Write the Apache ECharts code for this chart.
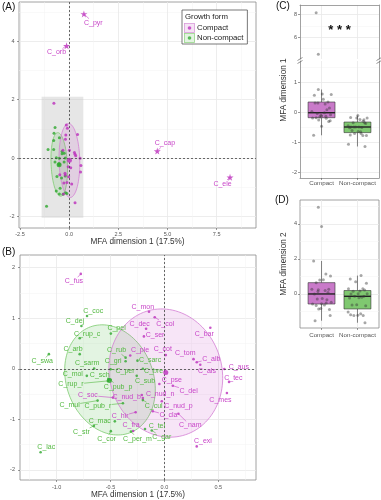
<!DOCTYPE html>
<html><head><meta charset="utf-8">
<script src="https://cdn.jsdelivr.net/npm/echarts@6/dist/echarts.min.js"></script>
<style>html,body{margin:0;padding:0;background:#fff}#c{width:381px;height:500px}</style>
</head><body><div id="c"></div>
<script>
// ---------------- data ----------------
const compactNames = ['C_fus','C_mon','C_dec','C_col','C_ser','C_bar','C_ple','C_cot','C_tom','C_alb','C_als','C_aus','C_tec','C_mes','C_pse','C_del','C_nud_n','C_nud_p','C_cla','C_nam','C_exi','C_soc','C_nud_b','C_hir','C_fra'];
const compactDim1 = [-0.776,-0.143,-0.17,-0.09,-0.19,0.426,-0.317,0.013,0.27,0.30,0.333,0.556,0.60,0.58,-0.047,0.078,-0.20,-0.024,-0.108,0.13,0.30,-0.478,-0.21,-0.267,-0.29];
const compactDim2 = [1.876,1.128,0.79,1.02,0.64,0.81,0.262,0.27,0.19,0.13,0.08,-0.006,-0.26,-0.48,-0.30,-0.335,-0.58,-0.643,-0.84,-0.89,-1.535,-0.57,-0.52,-0.86,-1.23];

const nonNames = ['C_coc','C_dej','C_rup_c','C_pel','C_arb','C_swa','C_sarm','C_rub','C_gri','C_sarc','C_per','C_bre','C_mol','C_sch','C_rup_r','C_pub_p','C_sub','C_mul','C_pub_r','C_cul','C_mac','C_str','C_cor','C_per_m','C_tel','C_gar','C_lac'];
const nonDim1 = [-0.718,-0.77,-0.786,-0.497,-0.786,-1.072,-0.652,-0.36,-0.36,-0.25,-0.50,-0.20,-0.72,-0.52,-0.525,-0.50,-0.257,-0.62,-0.385,-0.20,-0.46,-0.655,-0.497,-0.31,-0.18,-0.117,-1.149];
const nonDim2 = [1.043,0.846,0.604,0.695,0.289,0.289,0.006,0.22,0.15,0.16,-0.01,0.0,-0.14,-0.20,-0.24,-0.22,-0.14,-0.63,-0.683,-0.62,-1.04,-1.13,-1.234,-1.24,-1.19,-1.22,-1.65];

// compact species outside the zoomed window (panel A stars)
const outlierNames = ['C_pyr','C_orb','C_cap','C_ele'];
const outlierDim1 = [0.75,-0.13,4.48,8.18];
const outlierDim2 = [4.94,3.85,0.24,-0.66];

// group mean points
const meanCompact = [0.013,-0.075];
const meanNon = [-0.51,-0.23];

// confidence ellipses: centre and two semi-axis vectors (data units)
const ellipseCompactCenter = [0.013,-0.085];
const ellipseCompactAxes = [[-0.157,1.236],[0.504,0.285]];
const ellipseNonCenter = [-0.505,-0.22];
const ellipseNonAxes = [[-0.18,1.05],[0.38,0.29]];

// zoom window drawn in panel A
const zoomBoxX = [-1.4,0.72];
const zoomBoxY = [-2.05,2.1];

// tick labels
const ticksAx = [-2.5,0,2.5,5,7.5];
const ticksAy = [-2,0,2,4];
const ticksBx = [-1,-0.5,0,0.5];
const ticksBy = [-2,-1,0,1,2];
const ticksCupper = [6,8];
const ticksClower = [-2,-1,0,1];
const ticksD = [0,2,4];
const groupLabels = ['Compact','Non-compact'];

// ---------------- layout (label anchors, jitter) ----------------
const compactLabelAt = [[-0.84,1.73],[-0.20,1.23],[-0.23,0.89],[0.007,0.886],[-0.087,0.67],[0.37,0.68],[-0.226,0.37],[-0.015,0.39],[0.193,0.315],[0.435,0.197],[0.395,-0.05],[0.69,0.026],[0.64,-0.19],[0.52,-0.61],[0.069,-0.22],[0.224,-0.433],[-0.04,-0.51],[0.13,-0.73],[0.037,-0.925],[0.24,-1.12],[0.358,-1.43],[-0.71,-0.525],[-0.35,-0.55],[-0.41,-0.94],[-0.31,-1.12]];
const nonLabelAt = [[-0.66,1.14],[-0.83,0.945],[-0.717,0.695],[-0.444,0.80],[-0.848,0.388],[-1.133,0.144],[-0.717,0.104],[-0.444,0.367],[-0.475,0.157],[-0.133,0.17],[-0.366,-0.04],[-0.10,-0.04],[-0.85,-0.11],[-0.60,-0.13],[-0.867,-0.31],[-0.43,-0.354],[-0.18,-0.25],[-0.88,-0.72],[-0.618,-0.735],[-0.10,-0.74],[-0.60,-1.04],[-0.77,-1.25],[-0.537,-1.384],[-0.25,-1.384],[-0.07,-1.135],[-0.024,-1.35],[-1.096,-1.55]];
const outlierLabelAt = [[1.23,4.64],[-0.64,3.62],[4.87,0.5],[7.8,-0.89]];
const jitterCompact = [-0.22,0.12,-0.05,0.25,-0.15,0.05,0.2,-0.27,0.1,-0.1,0.18,-0.2,0.02,0.27,-0.12,0.15,-0.25,0.08,-0.02,0.22,-0.18,0.0,0.13,-0.08,0.24,-0.09,0.0,-0.09,-0.15];
const jitterNon = [0.1,-0.2,0.25,-0.05,0.15,-0.25,0.02,0.2,-0.12,0.07,-0.18,0.27,-0.08,0.12,-0.22,0.04,0.18,-0.15,0.23,-0.02,-0.26,0.09,-0.1,0.16,-0.19,0.01,0.21];

// ---------------- styles ----------------
const FONT = '"Liberation Sans", Arial, Helvetica, sans-serif';
const PINK = '#BC2EBC', PINK_TXT = '#C845C8';
const GREEN = '#2EA82E', GREEN_TXT = '#52B840';
const BORDER = '#8a8a8a';

const chart = echarts.init(document.getElementById('c'), null, {renderer:'canvas'});
const mctx = document.createElement('canvas').getContext('2d');
function textW(t, fs){ mctx.font = fs + 'px ' + FONT; return mctx.measureText(t).width; }

const near = (arr, v) => arr.some(t => Math.abs(t - v) < 1e-6);
function valAxis(gridIndex, min, max, interval, ticks, fmt, extra) {
  return Object.assign({
    type:'value', gridIndex, min, max, minInterval: interval, maxInterval: interval,
    axisLine:{show:false, onZero:false},
    axisTick:{show:true, length:2, lineStyle:{color:'#555', width:0.6}, customValues: ticks},
    axisLabel:{fontSize:5.5, color:'#555', margin:3, fontFamily: FONT, customValues: ticks,
      formatter: v => near(ticks, v) ? fmt(v) : ''},
    splitLine:{show:true, lineStyle:{color:'#E9E9E9', width:0.8}},
    minorTick:{show:false, splitNumber:2},
    minorSplitLine:{show:true, lineStyle:{color:'#F3F3F3', width:0.5}}
  }, extra || {});
}
const f1 = v => v.toFixed(1), f0 = v => String(Math.round(v));
const borderOnly = (gridIndex, min, max, position) => ({
  type:'value', gridIndex, min, max, position,
  axisLine:{show:true, onZero:false, lineStyle:{color:BORDER, width:0.8}},
  axisTick:{show:false}, axisLabel:{show:false}, splitLine:{show:false}
});

const allCompactDim1 = compactDim1.concat(outlierDim1);
const allCompactDim2 = compactDim2.concat(outlierDim2);

function quantile(s, p){ const h=(s.length-1)*p, lo=Math.floor(h); return s[lo] + (h-lo)*(s[Math.min(lo+1,s.length-1)]-s[lo]); }
function boxStats(vals){
  const s = vals.slice().sort((a,b)=>a-b);
  const q1=quantile(s,0.25), med=quantile(s,0.5), q3=quantile(s,0.75), iqr=q3-q1;
  const lo = s.find(v => v >= q1-1.5*iqr);
  const hi = s.slice().reverse().find(v => v <= q3+1.5*iqr);
  return [lo,q1,med,q3,hi];
}

function ellipseSeries(gi, center, axes, stroke, fill) {
  return {type:'custom', xAxisIndex:gi, yAxisIndex:gi, z:2, silent:true, clip:true,
    data:[[center[0], center[1]]],
    renderItem(params, api){
      const pts = [];
      for (let k = 0; k <= 120; k++) {
        const t = k/120*2*Math.PI, c = Math.cos(t), s = Math.sin(t);
        pts.push(api.coord([center[0]+axes[0][0]*c+axes[1][0]*s, center[1]+axes[0][1]*c+axes[1][1]*s]));
      }
      return {type:'polygon', shape:{points:pts}, style:{fill, stroke, lineWidth:0.8}};
    }};
}

function labelSeries(gi, xs, ys, names, at, color, fs) {
  return {type:'custom', xAxisIndex:gi, yAxisIndex:gi, z:6, silent:true,
    data: xs.map((x,i) => [x, ys[i], at[i][0], at[i][1], i]),
    renderItem(params, api){
      const i = api.value(4);
      const p = api.coord([api.value(0), api.value(1)]);
      const l = api.coord([api.value(2), api.value(3)]);
      const cs = params.coordSys;
      if (l[0] < cs.x || l[0] > cs.x+cs.width || l[1] < cs.y || l[1] > cs.y+cs.height) return null;
      const txt = names[i];
      const w = textW(txt, fs) + 1, h = fs + 1;
      const children = [{type:'text', x:l[0], y:l[1], style:{text:txt, fill:color, fontSize:fs, fontFamily:FONT, align:'center', verticalAlign:'middle'}}];
      const dx = p[0]-l[0], dy = p[1]-l[1];
      const tx = dx !== 0 ? (w/2)/Math.abs(dx) : Infinity;
      const ty = dy !== 0 ? (h/2)/Math.abs(dy) : Infinity;
      const t = Math.min(tx, ty);
      if (t < 1) {
        const sx = l[0]+dx*t, sy = l[1]+dy*t;
        if (Math.hypot(p[0]-sx, p[1]-sy) > 4) children.push({type:'line', shape:{x1:sx,y1:sy,x2:p[0],y2:p[1]}, style:{stroke:color, lineWidth:0.6}});
      }
      return {type:'group', children};
    }};
}

const boxFills = ['#C97AC9','#7FC870'];
function boxSeries(gi, stats) {
  return {type:'custom', xAxisIndex:gi, yAxisIndex:gi, z:3, silent:true,
    data: stats.map((s,i) => [i+1].concat(s)),
    renderItem(params, api){
      const x = api.value(0), lo=api.value(1), q1=api.value(2), med=api.value(3), q3=api.value(4), hi=api.value(5);
      const hw = 0.375;
      const a = api.coord([x-hw, q3]), b = api.coord([x+hw, q1]);
      const m1 = api.coord([x-hw, med]), m2 = api.coord([x+hw, med]);
      const t = api.coord([x, hi]), tq = api.coord([x, q3]), bq = api.coord([x, q1]), bo = api.coord([x, lo]);
      const ln = {stroke:'#333', lineWidth:0.6};
      return {type:'group', children:[
        {type:'line', shape:{x1:t[0],y1:t[1],x2:tq[0],y2:tq[1]}, style:ln},
        {type:'line', shape:{x1:bq[0],y1:bq[1],x2:bo[0],y2:bo[1]}, style:ln},
        {type:'rect', shape:{x:a[0], y:a[1], width:b[0]-a[0], height:b[1]-a[1]}, style:{fill:boxFills[Math.round(x)-1], stroke:'#333', lineWidth:0.6}},
        {type:'line', shape:{x1:m1[0],y1:m1[1],x2:m2[0],y2:m2[1]}, style:{stroke:'#222', lineWidth:1.4}}
      ]};
    }};
}

function jitterSeries(gi, a, b) {
  const data = a.map((v,i) => [1 + jitterCompact[i], v]).concat(b.map((v,i) => [2 + jitterNon[i], v]));
  return {type:'scatter', xAxisIndex:gi, yAxisIndex:gi, z:5, silent:true, clip:true, symbolSize:3,
    itemStyle:{color:'rgba(55,55,55,0.55)'}, data};
}

const zip = (xs, ys) => xs.map((x,i) => [x, ys[i]]);
const dashed = {symbol:['none','none'], silent:true, label:{show:false}, lineStyle:{type:[2,2], color:'#444', width:0.8}, data:[{xAxis:0},{yAxis:0}]};
const STAR = 'path://M50,0 L61,35 L98,35 L68,57 L79,91 L50,70 L21,91 L32,57 L2,35 L39,35 Z';

function keyIcon(fill, stroke, dot) {
  const svg = '<svg xmlns="http://www.w3.org/2000/svg" width="22" height="20" viewBox="0 0 22 20"><rect x="1" y="1" width="20" height="18" fill="'+fill+'" stroke="'+stroke+'" stroke-width="1.6"/><circle cx="11" cy="10" r="3.6" fill="'+dot+'"/></svg>';
  return 'image://data:image/svg+xml;charset=utf-8,' + encodeURIComponent(svg);
}

const statsC = [boxStats(allCompactDim1), boxStats(nonDim1)];
const statsD = [boxStats(allCompactDim2), boxStats(nonDim2)];

const gridBase = {containLabel:false, outerBoundsMode:'none'};
const gridBorder = Object.assign({show:true, borderColor:BORDER, borderWidth:0.8, backgroundColor:'transparent'}, gridBase);
const catAxis = (gi, showLabels, extra) => valAxis(gi, 0.4, 2.6, 1, [1,2], v => groupLabels[Math.round(v)-1],
  Object.assign({minorSplitLine:{show:false}, axisLabel:{show:showLabels, fontSize:6.2, color:'#555', margin:2.5, fontFamily:FONT, customValues:[1,2],
    formatter: v => near([1,2], v) ? groupLabels[Math.round(v)-1] : ''}, axisTick:{show:showLabels, length:2, lineStyle:{color:'#555', width:0.6}, customValues:[1,2]}}, extra||{}));

const option = {
  animation:false,
  backgroundColor:'#fff',
  textStyle:{fontFamily:FONT},
  grid:[
    Object.assign({left:19, top:2, width:237, height:226}, gridBorder),
    Object.assign({left:20, top:255, width:236, height:225}, gridBorder),
    Object.assign({left:300, top:5, width:79, height:54, show:false}, gridBase),
    Object.assign({left:300, top:61, width:79, height:117, show:false}, gridBase),
    Object.assign({left:300, top:200, width:79, height:128}, gridBorder)
  ],
  xAxis:[
    valAxis(0, -2.55, 9.5, 2.5, ticksAx, f1, {name:'MFA dimension 1 (17.5%)', nameLocation:'middle', nameGap:10, nameTextStyle:{fontSize:8.2, color:'#333', fontFamily:FONT, verticalAlign:'top'}}),
    valAxis(1, -1.34, 0.85, 0.5, ticksBx, f1, {name:'MFA dimension 1 (17.5%)', nameLocation:'middle', nameGap:11, nameTextStyle:{fontSize:8.2, color:'#333', fontFamily:FONT, verticalAlign:'top'}, axisLabel:{fontSize:5.5, color:'#555', margin:4, fontFamily:FONT, customValues:ticksBx, formatter: v => near(ticksBx, v) ? f1(v) : ''}}),
    catAxis(2, false),
    catAxis(3, true, {axisLine:{show:true, onZero:false, lineStyle:{color:BORDER, width:0.8}}}),
    catAxis(4, true, {axisLabel:{show:true, fontSize:6.2, color:'#555', margin:4, fontFamily:FONT, customValues:[1,2], formatter: v => near([1,2], v) ? groupLabels[Math.round(v)-1] : ''}}),
    borderOnly(2, 0.4, 2.6, 'top')
  ],
  yAxis:[
    valAxis(0, -2.4, 5.35, 2, ticksAy, f0, {name:'MFA dimension 2 (12.4%)', nameLocation:'middle', nameGap:9, nameTextStyle:{fontSize:8.2, color:'#333', fontFamily:FONT}, axisLabel:{fontSize:5.5, color:'#555', margin:4.5, fontFamily:FONT, customValues:ticksAy, formatter: v => near(ticksAy, v) ? f0(v) : ''}}),
    valAxis(1, -2.2, 2.25, 1, ticksBy, f0, {name:'MFA dimension 2 (12.4%)', nameLocation:'middle', nameGap:9.5, nameTextStyle:{fontSize:8.2, color:'#333', fontFamily:FONT}, axisLabel:{fontSize:5.5, color:'#555', margin:5, fontFamily:FONT, customValues:ticksBy, formatter: v => near(ticksBy, v) ? f0(v) : ''}}),
    valAxis(2, 4.05, 8.87, 2, ticksCupper, f0, {axisLine:{show:true, onZero:false, lineStyle:{color:BORDER, width:0.8}}}),
    valAxis(3, -2.2, 1.7, 1, ticksClower, f0, {axisLine:{show:true, onZero:false, lineStyle:{color:BORDER, width:0.8}}}),
    valAxis(4, -1.95, 5.36, 2, ticksD, f0),
    borderOnly(2, 4.05, 8.87, 'right'),
    borderOnly(3, -2.2, 1.7, 'right')
  ],
  legend:{
    orient:'vertical', left:182, top:10, padding:[13,4,1,2], itemWidth:11, itemHeight:10, itemGap:0,
    borderColor:'#555', borderWidth:0.8, backgroundColor:'#fff', selectedMode:false,
    textStyle:{fontSize:7.8, color:'#222', fontFamily:FONT, padding:[0,0,0,-3]},
    data:[
      {name:'Compact', icon:keyIcon('#F3DDF3','#D080D0',PINK)},
      {name:'Non-compact', icon:keyIcon('#DDF1DA','#7ACB6A',GREEN)}
    ]
  },
  graphic:[
    {type:'text', x:2, y:2, z:100, style:{text:'(A)', fontSize:10, fontFamily:FONT, fill:'#111'}},
    {type:'text', x:2, y:247, z:100, style:{text:'(B)', fontSize:10, fontFamily:FONT, fill:'#111'}},
    {type:'text', x:276, y:1, z:100, style:{text:'(C)', fontSize:10, fontFamily:FONT, fill:'#111'}},
    {type:'text', x:275, y:195, z:100, style:{text:'(D)', fontSize:10, fontFamily:FONT, fill:'#111'}},
    {type:'text', x:185, y:13, z:100, style:{text:'Growth form', fontSize:7.8, fontFamily:FONT, fill:'#222'}},
    {type:'text', x:284, y:90, rotation:Math.PI/2, z:100, style:{text:'MFA dimension 1', fontSize:8.2, fontFamily:FONT, fill:'#333', align:'center', verticalAlign:'middle'}},
    {type:'text', x:284, y:264, rotation:Math.PI/2, z:100, style:{text:'MFA dimension 2', fontSize:8.2, fontFamily:FONT, fill:'#333', align:'center', verticalAlign:'middle'}},
    {type:'text', x:339.5, y:30, z:100, style:{text:'* * *', fontSize:13, fontWeight:'bold', fontFamily:FONT, fill:'#111', align:'center', verticalAlign:'middle'}},
    {type:'line', z:100, shape:{x1:297.5,y1:60.5,x2:302.5,y2:57.5}, style:{stroke:'#666', lineWidth:0.7}},
    {type:'line', z:100, shape:{x1:297.5,y1:63.5,x2:302.5,y2:60.5}, style:{stroke:'#666', lineWidth:0.7}},
    {type:'line', z:100, shape:{x1:376.5,y1:60.5,x2:381.5,y2:57.5}, style:{stroke:'#666', lineWidth:0.7}},
    {type:'line', z:100, shape:{x1:376.5,y1:63.5,x2:381.5,y2:60.5}, style:{stroke:'#666', lineWidth:0.7}}
  ],
  series:[
    // ---- panel A ----
    {type:'scatter', xAxisIndex:0, yAxisIndex:0, z:1, silent:true, symbolSize:0, data:[[zoomBoxX[0], zoomBoxY[0]]],
      markArea:{silent:true, itemStyle:{color:'rgba(200,200,200,0.45)'}, data:[[{xAxis:zoomBoxX[0], yAxis:zoomBoxY[0]},{xAxis:zoomBoxX[1], yAxis:zoomBoxY[1]}]]},
      markLine:dashed},
    ellipseSeries(0, ellipseNonCenter, ellipseNonAxes, '#7CCB6E', 'rgba(70,180,60,0.15)'),
    ellipseSeries(0, ellipseCompactCenter, ellipseCompactAxes, '#D47FD4', 'rgba(200,70,200,0.14)'),
    {type:'scatter', name:'Non-compact', xAxisIndex:0, yAxisIndex:0, z:4, silent:true, symbolSize:3, itemStyle:{color:GREEN}, data:zip(nonDim1, nonDim2)},
    {type:'scatter', name:'Compact', xAxisIndex:0, yAxisIndex:0, z:4, silent:true, symbolSize:3, itemStyle:{color:PINK}, data:zip(compactDim1, compactDim2)},
    {type:'scatter', xAxisIndex:0, yAxisIndex:0, z:5, silent:true, symbol:STAR, symbolSize:7, itemStyle:{color:PINK}, data:zip(outlierDim1, outlierDim2)},
    {type:'scatter', xAxisIndex:0, yAxisIndex:0, z:5, silent:true, symbolSize:5, data:[{value:meanNon, itemStyle:{color:GREEN}},{value:meanCompact, itemStyle:{color:PINK}}]},
    labelSeries(0, outlierDim1, outlierDim2, outlierNames, outlierLabelAt, PINK_TXT, 7),
    // ---- panel B ----
    {type:'scatter', xAxisIndex:1, yAxisIndex:1, z:1, silent:true, symbolSize:0, data:[[0,0]], markLine:dashed},
    ellipseSeries(1, ellipseNonCenter, ellipseNonAxes, '#7CCB6E', 'rgba(70,180,60,0.15)'),
    ellipseSeries(1, ellipseCompactCenter, ellipseCompactAxes, '#D47FD4', 'rgba(200,70,200,0.14)'),
    {type:'scatter', name:'Non-compact', xAxisIndex:1, yAxisIndex:1, z:4, silent:true, clip:true, symbolSize:2.6, itemStyle:{color:GREEN}, data:zip(nonDim1, nonDim2)},
    {type:'scatter', name:'Compact', xAxisIndex:1, yAxisIndex:1, z:4, silent:true, clip:true, symbolSize:2.6, itemStyle:{color:PINK}, data:zip(compactDim1, compactDim2)},
    {type:'scatter', xAxisIndex:1, yAxisIndex:1, z:5, silent:true, symbolSize:5, data:[{value:meanNon, itemStyle:{color:GREEN}},{value:meanCompact, itemStyle:{color:PINK}}]},
    labelSeries(1, nonDim1, nonDim2, nonNames, nonLabelAt, GREEN_TXT, 7),
    labelSeries(1, compactDim1, compactDim2, compactNames, compactLabelAt, PINK_TXT, 7),
    // ---- panel C ----
    jitterSeries(2, allCompactDim1, nonDim1),
    boxSeries(3, statsC),
    jitterSeries(3, allCompactDim1, nonDim1),
    // ---- panel D ----
    boxSeries(4, statsD),
    jitterSeries(4, allCompactDim2, nonDim2)
  ]
};
chart.setOption(option);
</script>
</body></html>
